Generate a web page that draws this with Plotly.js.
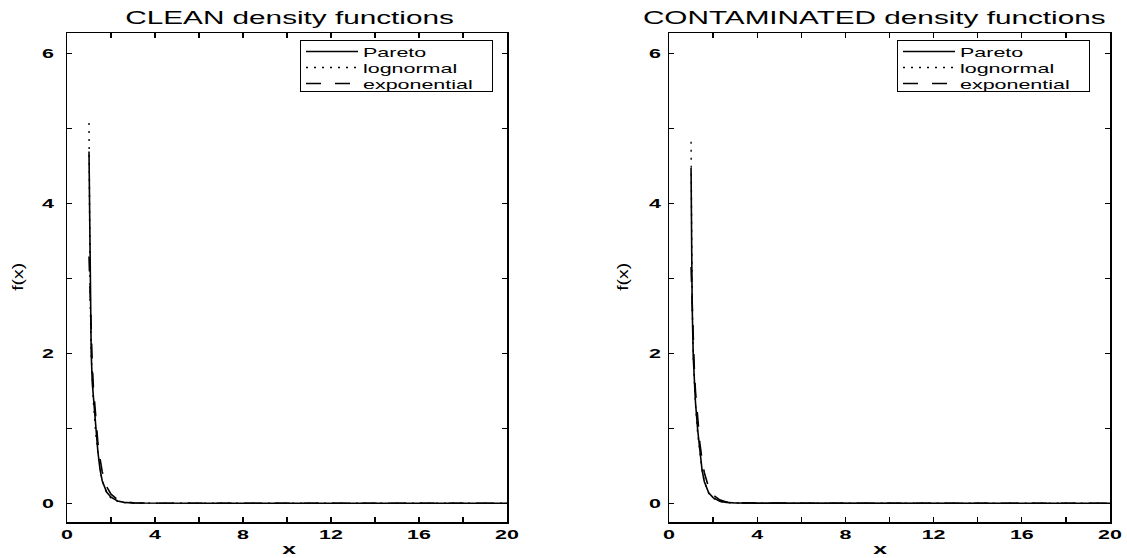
<!DOCTYPE html>
<html>
<head>
<meta charset="utf-8">
<script src="https://cdn.plot.ly/plotly-3.0.1.min.js"></script>
<style>html,body{margin:0;padding:0;background:#fff;}#chart{width:1127px;height:558px;}</style>
</head>
<body>
<div id="chart"></div>
<script>
// ---- data ----
const xVals = [1, 1.02, 1.05, 1.1, 1.15, 1.2, 1.3, 1.4, 1.5, 1.6, 1.8, 2, 2.3, 2.6, 3, 4, 6, 10, 20];

const cleanPareto      = [4.69, 3.9, 2.75, 2.0, 1.6, 1.4, 1.0, 0.7, 0.45, 0.30, 0.15, 0.08, 0.03, 0.012, 0.004, 0.001, 0, 0, 0];
const cleanLognormal   = [5.07, 4.0, 2.8, 2.0, 1.6, 1.35, 0.95, 0.68, 0.45, 0.30, 0.14, 0.07, 0.025, 0.01, 0.003, 0.0005, 0, 0, 0];
const cleanExponential = [3.29, 3.05, 2.7, 2.2, 1.85, 1.55, 1.15, 0.82, 0.6, 0.42, 0.22, 0.12, 0.05, 0.02, 0.007, 0.001, 0, 0, 0];

const contPareto      = [4.47, 3.7, 2.65, 1.95, 1.58, 1.35, 0.98, 0.68, 0.44, 0.29, 0.14, 0.075, 0.028, 0.011, 0.004, 0.001, 0, 0, 0];
const contLognormal   = [4.82, 3.85, 2.72, 1.95, 1.57, 1.32, 0.93, 0.66, 0.44, 0.29, 0.135, 0.068, 0.024, 0.009, 0.003, 0.0005, 0, 0, 0];
const contExponential = [3.15, 2.93, 2.6, 2.12, 1.78, 1.5, 1.1, 0.8, 0.58, 0.41, 0.21, 0.11, 0.045, 0.018, 0.006, 0.001, 0, 0, 0];

const seriesNames = ['Pareto', 'lognormal', 'exponential'];
const panelTitles = ['CLEAN density functions', 'CONTAMINATED density functions'];
const xTickVals = [0, 4, 8, 12, 16, 20];
const yTickVals = [0, 2, 4, 6];
const xLabel = 'x';
const yLabel = 'f(x)';

// ---- styling ----
const FONT = '"Liberation Sans", Arial, Helvetica, sans-serif';
const styles = [
  {color: '#000', width: 1.6, dash: 'solid'},
  {color: '#000', width: 1.4, dash: '2px,6px'},
  {color: '#000', width: 1.6, dash: '15px,14px'}
];

function mk(y, i, xa, ya, leg) {
  return {x: xVals, y: y, type: 'scatter', mode: 'lines', name: seriesNames[i],
          xaxis: xa, yaxis: ya, legend: leg, line: styles[i], hoverinfo: 'skip'};
}
const traces = [
  mk(cleanPareto, 0, 'x', 'y', 'legend'),
  mk(cleanLognormal, 1, 'x', 'y', 'legend'),
  mk(cleanExponential, 2, 'x', 'y', 'legend'),
  mk(contPareto, 0, 'x2', 'y2', 'legend2'),
  mk(contLognormal, 1, 'x2', 'y2', 'legend2'),
  mk(contExponential, 2, 'x2', 'y2', 'legend2')
];

const W = 1127, H = 558;
const px = v => v / W, py = v => 1 - v / H;

function xaxis(domain, anchor, standoff) {
  return {domain: domain, anchor: anchor, range: [0, 20], tickvals: xTickVals,
    ticks: 'inside', ticklen: 5, tickwidth: 1.2, tickcolor: '#000',
    minor: {tickvals: [2, 6, 10, 14, 18], ticks: 'inside', ticklen: 5, tickwidth: 1.2, tickcolor: '#000'},
    showline: true, linecolor: '#000', linewidth: 1.5, mirror: 'allticks',
    showgrid: false, zeroline: false, ticklabelstandoff: standoff,
    tickfont: {family: FONT, size: 13, color: '#000', weight: 'bold'}};
}
function yaxis(domain, anchor, standoff) {
  return {domain: domain, anchor: anchor, range: [-0.25, 6.27], tickvals: yTickVals,
    ticks: 'inside', ticklen: 5, tickwidth: 1.2, tickcolor: '#000',
    minor: {tickvals: [1, 3, 5], ticks: 'inside', ticklen: 5, tickwidth: 1.2, tickcolor: '#000'},
    showline: true, linecolor: '#000', linewidth: 1.5, mirror: 'allticks',
    showgrid: false, zeroline: false, ticklabelstandoff: standoff,
    tickfont: {family: FONT, size: 13, color: '#000', weight: 'bold'}};
}

const yDom = [1 - 522 / H, 1 - 33 / H];
const legendStyle = (x) => ({x: px(x), y: py(40), xanchor: 'left', yanchor: 'top',
  bgcolor: '#fff', bordercolor: '#000', borderwidth: 1, itemwidth: 52,
  font: {family: FONT, size: 13, color: '#000'}, tracegroupgap: 0});

const ann = (text, x, y, size, extra) => Object.assign({text: text, xref: 'paper', yref: 'paper',
  x: px(x), y: py(y), showarrow: false, xanchor: 'center', yanchor: 'middle',
  font: {family: FONT, size: size, color: '#000'}}, extra || {});

const layout = {
  width: W, height: H, margin: {l: 0, r: 0, t: 0, b: 0},
  paper_bgcolor: '#fff', plot_bgcolor: '#fff', showlegend: true,
  xaxis: xaxis([px(67), px(507)], 'y', 0),
  yaxis: yaxis(yDom, 'x', 9),
  xaxis2: xaxis([px(669), px(1110)], 'y2', 0),
  yaxis2: yaxis(yDom, 'x2', 4),
  legend: legendStyle(300),
  legend2: legendStyle(897),
  annotations: [
    ann(panelTitles[0], 289, 18, 18),
    ann(panelTitles[1], 874, 18, 18),
    ann(xLabel, 289, 548, 15, {font: {family: FONT, size: 15, color: '#000', weight: 'bold'}}),
    ann(xLabel, 880, 548, 15, {font: {family: FONT, size: 15, color: '#000', weight: 'bold'}}),
    ann(yLabel, 18, 277, 14, {textangle: -90}),
    ann(yLabel, 623, 277, 14, {textangle: -90})
  ]
};

Plotly.newPlot('chart', traces, layout, {displayModeBar: false, staticPlot: true}).then(function (gd) {
  // the reference glyphs are horizontally stretched: widen horizontal text
  const K = 1.65;
  gd.querySelectorAll('svg text').forEach(function (t) {
    const len = t.getComputedTextLength();
    if (!(len > 0)) return;
    const k = (t.textContent === yLabel) ? 1.38 : K;
    t.setAttribute('textLength', (len * k).toFixed(2));
    t.setAttribute('lengthAdjust', 'spacingAndGlyphs');
  });
  // resize the legend boxes to hold the stretched labels and tighter rows
  const rowY = [11.5, 27.5, 43.5];
  gd.querySelectorAll('g.legend, g.legend2').forEach(function (g) {
    g.querySelectorAll('[clip-path]').forEach(function (e) { e.removeAttribute('clip-path'); });
    const bg = g.querySelector('rect.bg');
    if (bg) { bg.setAttribute('width', 192); bg.setAttribute('height', 51); }
    g.querySelectorAll('g.traces').forEach(function (tr, i) {
      const m = /translate\(\s*([-\d.]+)/.exec(tr.getAttribute('transform') || '');
      const x0 = m ? parseFloat(m[1]) : 1;
      if (i < rowY.length) tr.setAttribute('transform', 'translate(' + x0 + ',' + rowY[i] + ')');
    });
  });
});
</script>
</body>
</html>
